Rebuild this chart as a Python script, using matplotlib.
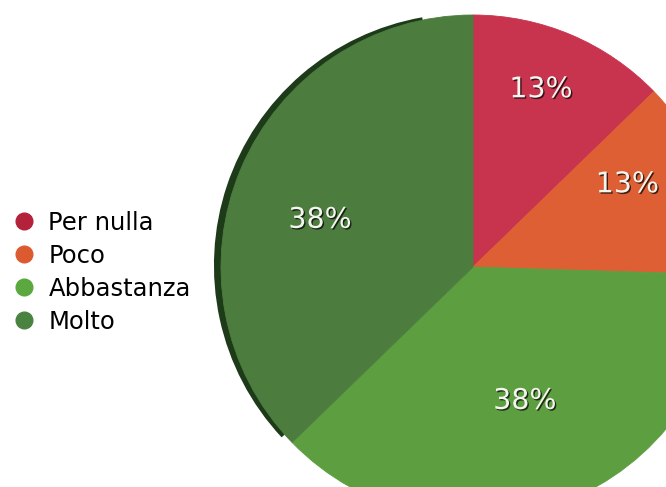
import numpy as np
import matplotlib
matplotlib.use("Agg")
import matplotlib.pyplot as plt
import matplotlib.patheffects as pe
from matplotlib.lines import Line2D
from matplotlib.patches import Wedge

# ─── Data ─────────────────────────────────────────────────────────────────────
categories = ["Per nulla", "Poco", "Abbastanza", "Molto"]
percent    = [13, 13, 38, 38]

slice_colors  = ["#c8344e", "#de5f34", "#5d9e40", "#4c7d3e"]
legend_colors = ["#b3213b", "#dc5a30", "#5aa83e", "#4a8240"]
# label placement: radius (fraction of pie radius) and angle nudge (deg)
label_radius  = [0.755, 0.695, 0.57, 0.635]
label_nudge   = [2.0, 7.0, 0.0, 5.8]

W, H = 666, 487
fig = plt.figure(figsize=(W / 100, H / 100), dpi=100, facecolor="white")

# pie centre / radius in pixels (image coords, y down)
cx, cy, r = 473, 267, 252
ax = fig.add_axes([(cx - r) / W, (H - cy - r) / H, 2 * r / W, 2 * r / H])

# dark rim behind the last slice (3D edge seen on the left)
ax.add_patch(Wedge((-0.028, 0.006), 1.0, 100, 223, color="#1d3a19", zorder=0,
                   clip_on=False, linewidth=0))

wedges, _ = ax.pie(percent, colors=slice_colors, startangle=90,
                   counterclock=False, radius=1.0,
                   wedgeprops=dict(linewidth=0.6))
for w, c in zip(wedges, slice_colors):
    w.set_edgecolor(c)
    w.set_zorder(1)
ax.set_xlim(-1, 1)
ax.set_ylim(-1, 1)
ax.axis("off")

shadow = [pe.SimplePatchShadow(offset=(1, -1), shadow_rgbFace="black", alpha=0.7),
          pe.Normal()]
for w, p, rr, dn in zip(wedges, percent, label_radius, label_nudge):
    ang = np.deg2rad((w.theta1 + w.theta2) / 2 + dn)
    ax.text(rr * np.cos(ang), rr * np.sin(ang), f"{p}%",
            ha="center", va="center", fontsize=20.5, color="#f5f5f0",
            family="DejaVu Sans", path_effects=shadow, zorder=3)

# ─── Legend ───────────────────────────────────────────────────────────────────
handles = [Line2D([], [], marker="o", linestyle="", markersize=12,
                  markerfacecolor=c, markeredgecolor=c) for c in legend_colors]
fig.legend(handles, categories, loc="upper left",
           bbox_to_anchor=(0.0015, (H - 201) / H), frameon=False,
           fontsize=17.5, handletextpad=0.45, labelspacing=0.37,
           handlelength=1.1, borderaxespad=0)

plt.savefig("out.png", dpi=100, facecolor="white")
